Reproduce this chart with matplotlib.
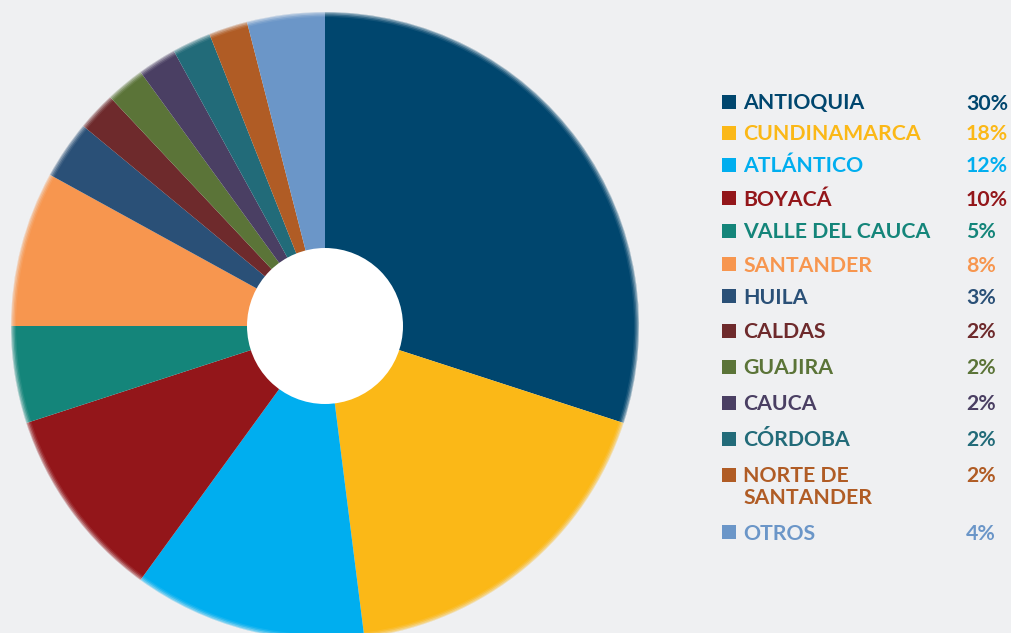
import matplotlib
matplotlib.use("Agg")
import matplotlib.pyplot as plt
from matplotlib.patches import Circle, Rectangle, Wedge

# departments and their share (%)
labels = ["ANTIOQUIA", "CUNDINAMARCA", "ATLÁNTICO", "BOYACÁ", "VALLE DEL CAUCA",
          "SANTANDER", "HUILA", "CALDAS", "GUAJIRA", "CAUCA", "CÓRDOBA",
          "NORTE DE\nSANTANDER", "OTROS"]
values = [30, 18, 12, 10, 5, 8, 3, 2, 2, 2, 2, 2, 4]
colors = ["#00466E", "#FBB817", "#00AEEF", "#93161A", "#14857A", "#F7964F",
          "#2A5077", "#6E2A2C", "#5B7438", "#4A3F63", "#226B79", "#B05C25",
          "#6B96C8"]

bg = "#EFF0F2"
W, H = 1011, 633

fig = plt.figure(figsize=(W / 100, H / 100), dpi=100, facecolor=bg)
ax = fig.add_axes([0, 0, 1, 1])
ax.set_facecolor(bg)

cx, cy, R = 325, H - 326, 314
ax.pie(values, colors=colors, startangle=90, counterclock=False,
       radius=R, center=(cx, cy), wedgeprops=dict(linewidth=0))

# soft outer edge
for k, a in enumerate([0.15, 0.3, 0.5, 0.75]):
    ax.add_patch(Wedge((cx, cy), R + 0.5, 0, 360, width=1.4 * (4 - k),
                       facecolor=bg, alpha=a * 0.55, linewidth=0))

# white hole
ax.add_patch(Circle((cx, cy), 78, facecolor="white", linewidth=0))

ax.set_xlim(0, W)
ax.set_ylim(0, H)
ax.set_aspect("equal")
ax.axis("off")

# legend
rows_y = [102, 133, 165, 198, 231, 264, 296, 331, 367, 403, 439, 475, 532]
fs = 15.3
for lab, v, c, y in zip(labels, values, colors, rows_y):
    ax.add_patch(Rectangle((722, H - y - 7), 14, 14, facecolor=c, linewidth=0))
    ty = H - y - 1.5
    for j, line in enumerate(lab.split("\n")):
        ax.text(743, ty - 21 * j, line, color=c, fontsize=fs,
                fontweight="bold", family="Lato", va="center")
    ax.text(966, ty, f"{v}%", color=c, fontsize=fs, fontweight="bold",
            family="Lato", va="center")

fig.savefig("out.png", dpi=100, facecolor=bg)
